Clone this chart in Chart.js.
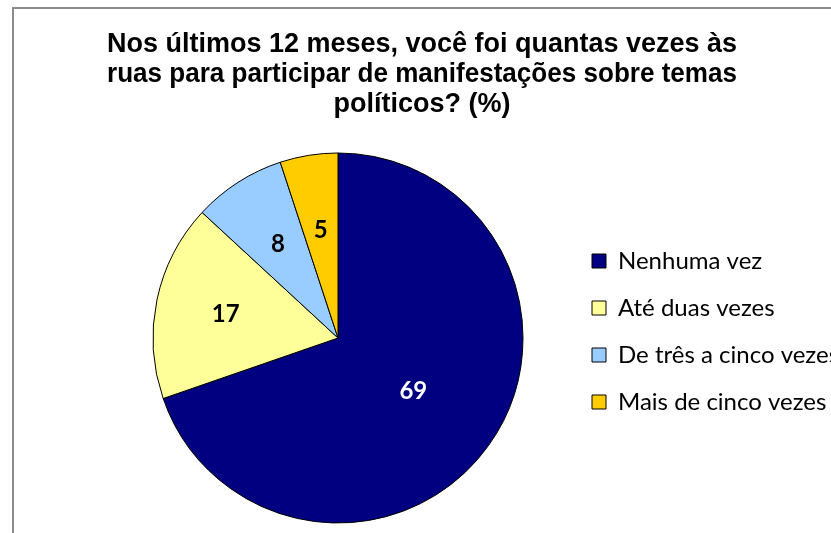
<!DOCTYPE html>
<html>
<head>
<meta charset="utf-8">
<script src="https://cdn.jsdelivr.net/npm/chart.js@4/dist/chart.umd.min.js"></script>
<style>
  html, body { margin: 0; padding: 0; background: #fff; overflow: hidden; }
  #frame { position: absolute; left: 12px; top: 7px; width: 900px; height: 600px;
           border-left: 2px solid #8c8c8c; border-top: 2px solid #8c8c8c; }
  #wrap { position: absolute; left: 0; top: 0; width: 831px; height: 545px; }
</style>
</head>
<body>
<div id="frame"></div>
<div id="wrap"><canvas id="pieChart"></canvas></div>
<script>
const titleLines = [
  'Nos últimos 12 meses, você foi quantas vezes às',
  'ruas para participar de manifestações sobre temas',
  'políticos? (%)'
];
const categories = ['Nenhuma vez', 'Até duas vezes', 'De três a cinco vezes', 'Mais de cinco vezes'];
const shares = [69, 17, 8, 5];
const sliceColors = ['#000080', '#FFFF99', '#99CCFF', '#FFCC00'];
const labelColors = ['#ffffff', '#000000', '#000000', '#000000'];
const labelRadius = [0.5, 0.62, 0.6, 0.59];

// values written inside the slices
const sliceLabels = {
  id: 'sliceLabels',
  afterDatasetsDraw(chart) {
    const ctx = chart.ctx;
    const meta = chart.getDatasetMeta(0);
    ctx.save();
    ctx.font = 'bold 24px Lato';
    ctx.textAlign = 'center';
    ctx.textBaseline = 'middle';
    meta.data.forEach((arc, i) => {
      const p = arc.getProps(['x', 'y', 'startAngle', 'endAngle', 'outerRadius'], true);
      const mid = (p.startAngle + p.endAngle) / 2;
      const r = p.outerRadius * labelRadius[i];
      ctx.fillStyle = labelColors[i];
      ctx.fillText(String(shares[i]), p.x + Math.cos(mid) * r, p.y + Math.sin(mid) * r);
    });
    ctx.restore();
  }
};

// the original legend runs off the right edge, so don't clip it to its box,
// and it sits a little higher than the pie's middle
const legendOverflow = {
  id: 'legendOverflow',
  afterLayout(chart) {
    if (!chart.legend) return;
    chart.legend.right = chart.width + 50;
    chart.legend.top -= 13;
  }
};

new Chart(document.getElementById('pieChart'), {
  type: 'pie',
  data: {
    labels: categories,
    datasets: [{
      data: shares,
      backgroundColor: sliceColors,
      borderColor: '#000000',
      borderWidth: 1,
      hoverOffset: 0
    }]
  },
  options: {
    responsive: true,
    maintainAspectRatio: false,
    animation: false,
    events: [],
    layout: { padding: { left: 107, right: 94, top: 0, bottom: 21.5 } },
    plugins: {
      title: {
        display: true,
        text: titleLines,
        color: '#000000',
        font: { family: '"Liberation Sans", Arial, sans-serif', size: 27, weight: 'bold', lineHeight: '30px' },
        padding: { top: 30, bottom: 32.5 }
      },
      legend: {
        position: 'right',
        align: 'center',
        fullSize: false,
        maxWidth: 168,
        labels: {
          color: '#000000',
          font: { family: 'Lato', size: 24 },
          boxWidth: 14,
          boxHeight: 14,
          padding: 23
        }
      },
      tooltip: { enabled: false }
    }
  },
  plugins: [sliceLabels, legendOverflow]
});
</script>
</body>
</html>
